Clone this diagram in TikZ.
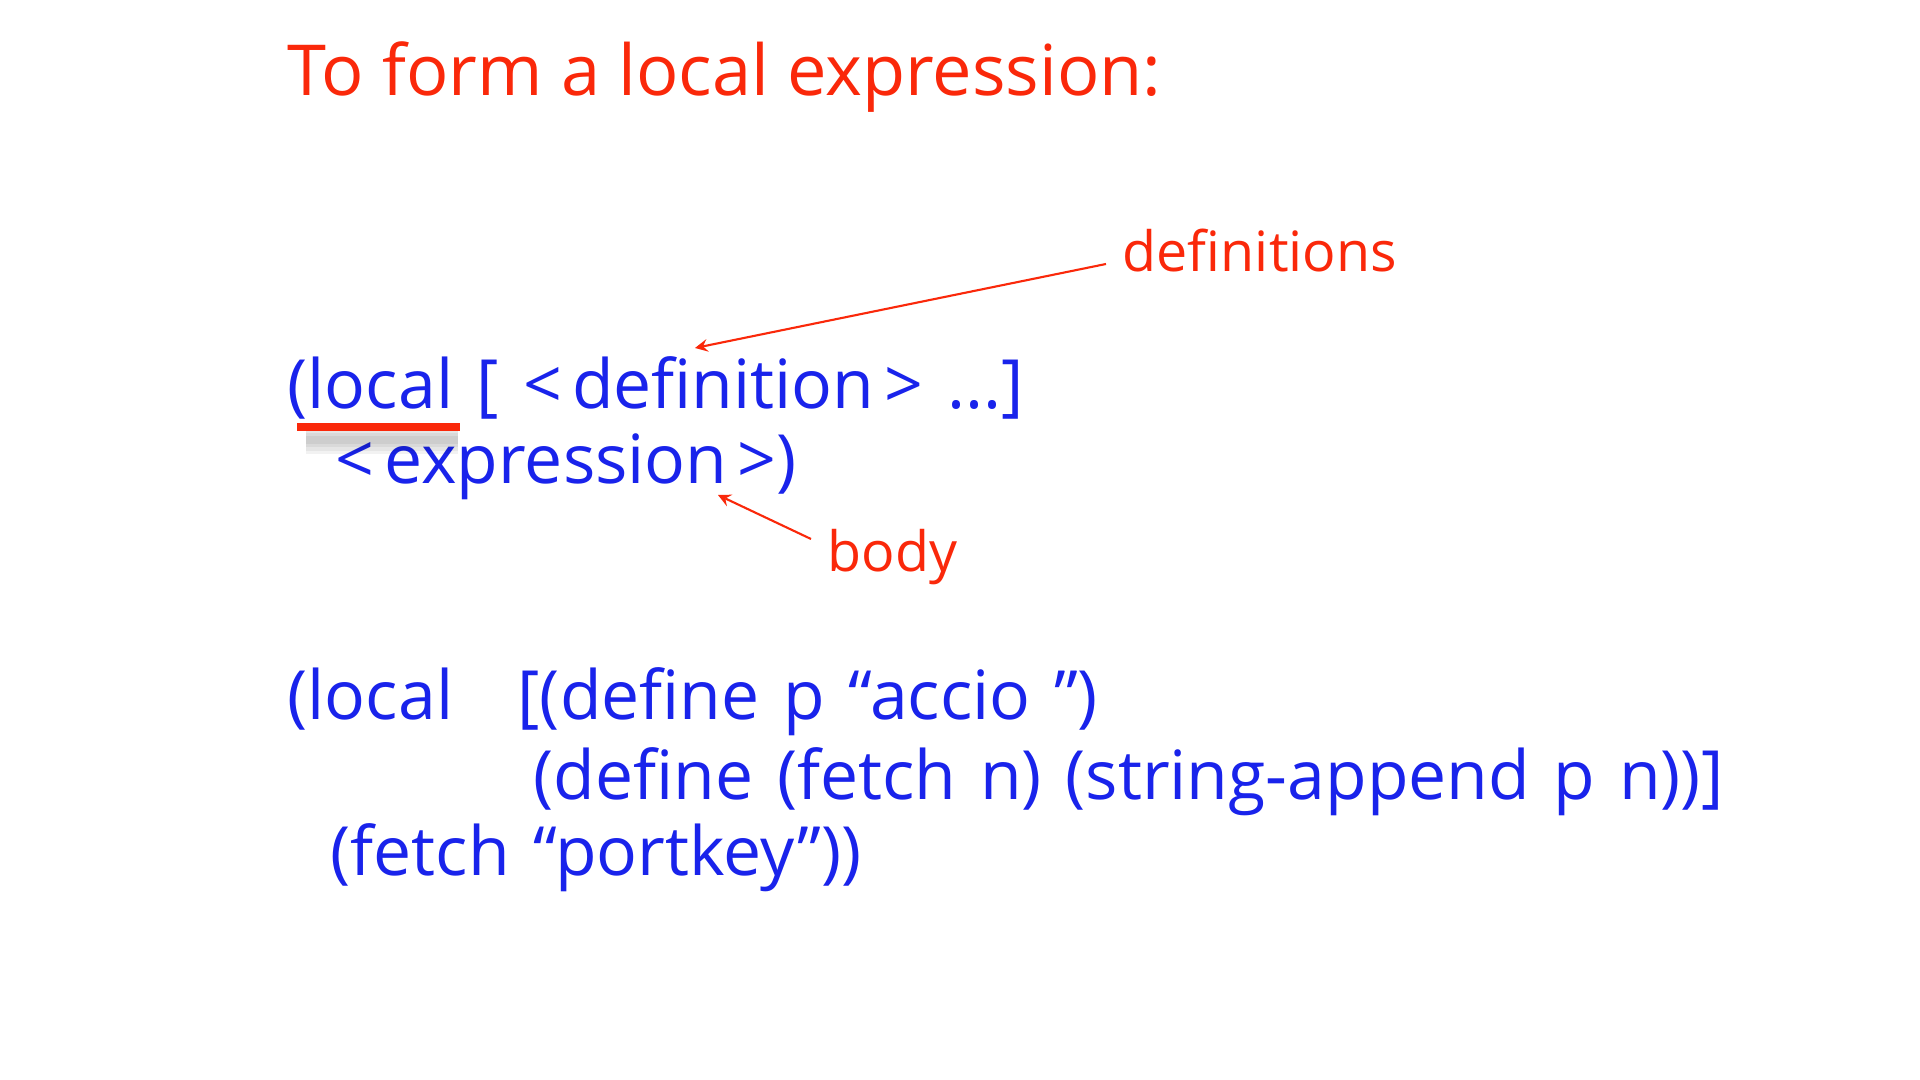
\documentclass[tikz,border=0pt]{standalone}
\usepackage{fontspec}
\setmainfont[WordSpace=1.35]{Open Sans}
\usepackage{tikz}
\definecolor{slidered}{RGB}{250,40,10}
\definecolor{slideblue}{RGB}{25,35,235}
\newcommand{\lbr}{<\kern.15em}
\newcommand{\rbr}{\kern.15em>}
\tikzset{
  title/.style={anchor=base west, inner sep=0pt, text=slidered, font=\fontspec{Open Sans}\fontsize{20}{24}\selectfont},
  code/.style={anchor=base west, inner sep=0pt, text=slideblue, font=\fontsize{19.3}{23}\selectfont},
  note/.style={anchor=base west, inner sep=0pt, text=slidered, font=\fontsize{15.8}{19}\selectfont},
  pointer/.style={draw=slidered, line width=0.6pt, -stealth}
}

\begin{document}
\begin{tikzpicture}[x=0.01cm, y=-0.01cm]
	\useasboundingbox[fill=white] (0,0) rectangle (1920,1080);
	
	\node[title] (head) at (287,96) {To form a local expression:};
	
	\node[code] (form1) at (287,409) {(local [ \lbr definition\rbr{} ...]};
	\node[code] (form2) at (335,484) {\lbr expression\rbr)};
	
	\foreach \w in {2,4,6,8}
		\draw[black, opacity=.05, line width=\w pt] (306,440) -- (458,440);
	\draw[slidered, line width=2.2pt] (297,427) -- (460,427);
	
	\node[note] (defs) at (1122,272) {definitions};
	\node[note] (body) at (827,572) {body};
	\coordinate (defstip) at (695,348);
	\coordinate (bodytip) at (718,495);
	\draw[pointer] (defs.base west) ++(-16,-8) -- (defstip);
	\draw[pointer] (body.base west) ++(-16,-33) -- (bodytip);
	
	\node[code] (ex1) at (287,720) {(local\hspace{0.6em} [(define p “accio ”)};
	\node[code] (ex2) at (533,800) {(define (fetch n) (string-append p n))]};
	\node[code] (ex3) at (330,876) {(fetch “portkey”))};
\end{tikzpicture}
\end{document}
